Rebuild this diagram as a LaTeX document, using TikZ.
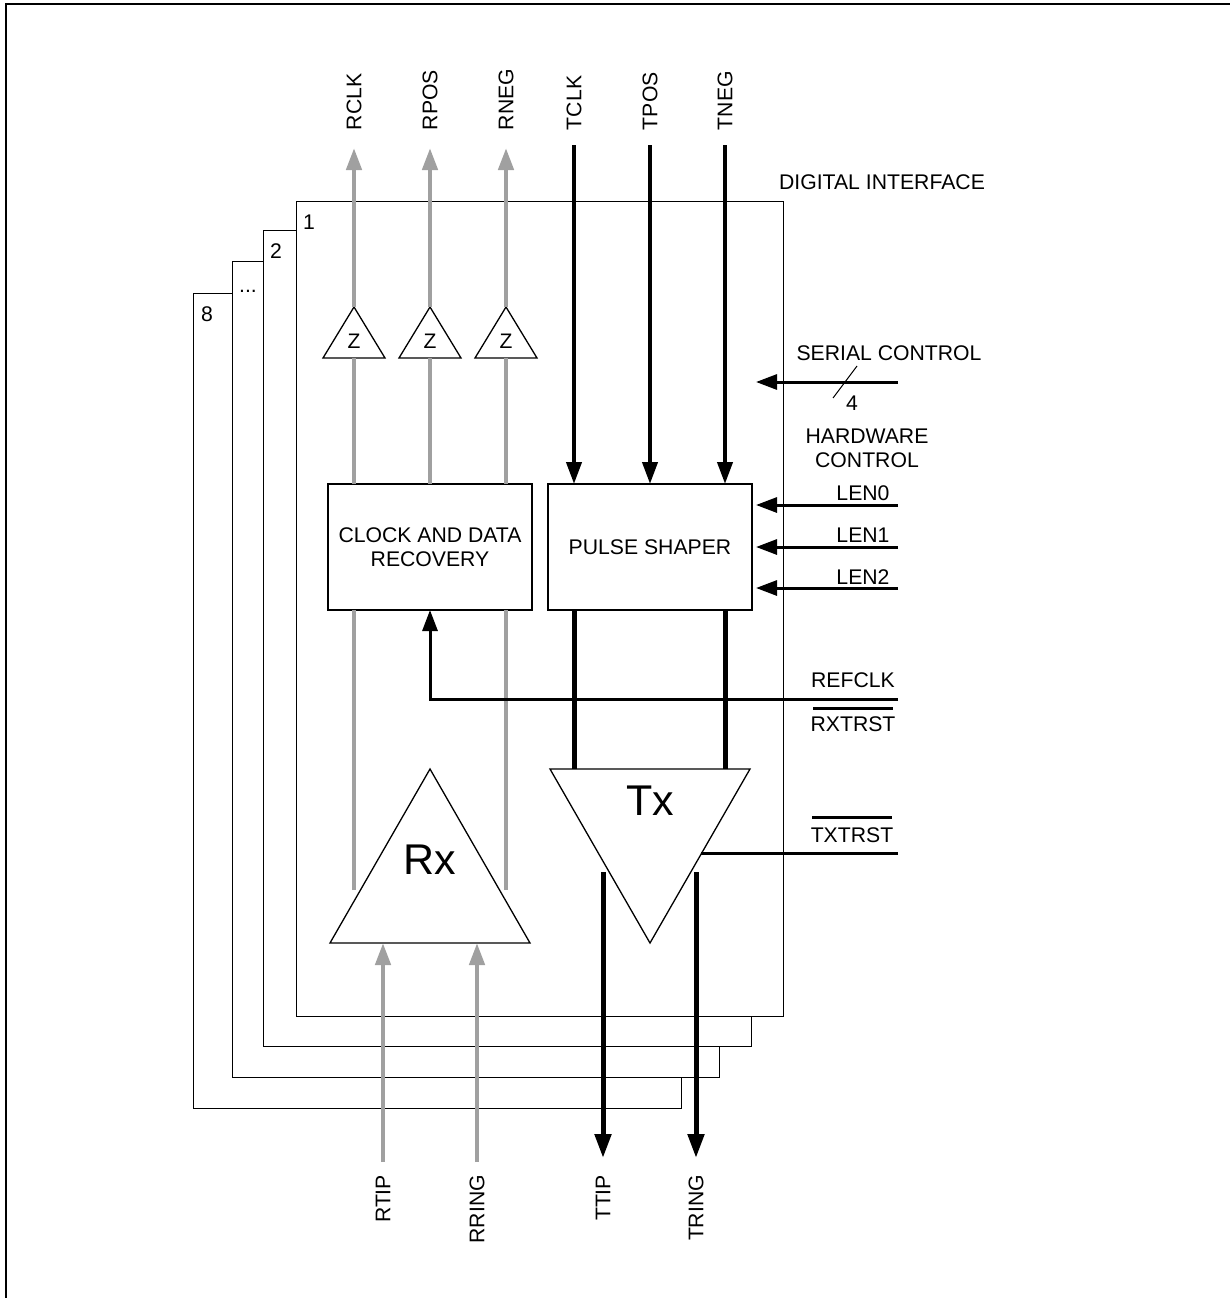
\documentclass[tikz,border=0pt]{standalone}
\usepackage{fontspec}
\setmainfont{Liberation Sans}
\usetikzlibrary{arrows.meta,calc}
\definecolor{sig}{RGB}{160,160,160}
\begin{document}
\begin{tikzpicture}[x=1pt,y=-1pt,
  lbl/.style={font=\fontsize{21.2}{23.5}\selectfont, inner sep=0pt, outer sep=0pt},
  biglbl/.style={font=\fontsize{43}{46}\selectfont, inner sep=0pt},
  zlbl/.style={font=\fontsize{21}{22}\selectfont, inner sep=0pt},
  card/.style={draw, line width=1pt, fill=white, anchor=north west, inner sep=0pt, outer sep=0pt,
               minimum width=488pt, minimum height=816pt},
  blockbox/.style={draw, line width=1.3pt, fill=white, anchor=north west, inner sep=0pt, outer sep=0pt,
               minimum width=204pt, minimum height=126pt, align=center,
               font=\fontsize{21.2}{23.5}\selectfont},
  garrow/.style={draw=sig, line width=4.5pt, -{Triangle[length=22pt,width=15pt]}},
  gline/.style={draw=sig, line width=4.5pt},
  barrow/.style={draw=black, line width=4pt, -{Triangle[length=22pt,width=15pt]}},
  carrow/.style={draw=black, line width=3pt, -{Triangle[length=21pt,width=15pt]}},
  bline/.style={draw=black, line width=5pt},
  cline/.style={draw=black, line width=3pt},
  amp/.style={draw=black, line width=1.3pt, fill=white, line join=miter},
]
\useasboundingbox (0,0) rectangle (1230,1298);

% outer frame
\coordinate (fbl) at (6,1298);
\coordinate (ftl) at (6,4);
\coordinate (ftr) at (1230,4);
\draw[line width=2pt] (fbl) -- (ftl) -- (ftr);

% stacked cards
\node[card, minimum width=488pt, minimum height=815pt] (c8) at (193,293) {};
\node[card, minimum width=487pt, minimum height=816pt] (c3) at (232,261) {};
\node[card, minimum width=488pt, minimum height=816pt] (c2) at (263,230) {};
\node[card, minimum width=487pt, minimum height=815pt] (c1) at (296,201) {};
\node[lbl] (n1) at (309,222) {1};
\node[lbl] (n2) at (276,251) {2};
\node[lbl, anchor=base] (n3) at (248,292) {...};
\node[lbl] (n8) at (207,314) {8};

\node[lbl] (di) at (882,182) {DIGITAL INTERFACE};

% blocks
\node[blockbox] (cdr) at (328,484) {CLOCK AND DATA\\RECOVERY};
\node[blockbox] (ps) at (548,484) {PULSE SHAPER};

% Z buffers
\foreach \i/\x in {1/354,2/430,3/506}{
  \coordinate (za\i) at (\x,307);
  \coordinate (zb\i) at (\x,358);
  \draw[amp] (\x,307) -- (\x+31,358) -- (\x-31,358) -- cycle;
  \node[zlbl] (zt\i) at (\x,341) {Z};
  \coordinate (rt\i) at (\x,148);
  \coordinate (cdrt\i) at (\x,484);
  \draw[gline] (cdrt\i) -- (zb\i);
  \draw[garrow] (za\i) -- (rt\i);
}
\node[lbl, rotate=90, anchor=west] (lrclk) at (354,130) {RCLK};
\node[lbl, rotate=90, anchor=west] (lrpos) at (430,130) {RPOS};
\node[lbl, rotate=90, anchor=west] (lrneg) at (506,130) {RNEG};

% transmit inputs
\foreach \i/\x in {1/574,2/650,3/725}{
  \coordinate (ts\i) at (\x,145);
  \coordinate (pst\i) at (\x,484);
  \draw[barrow] (ts\i) -- (pst\i);
}
\node[lbl, rotate=90, anchor=west] (ltclk) at (574,130) {TCLK};
\node[lbl, rotate=90, anchor=west] (ltpos) at (650,130) {TPOS};
\node[lbl, rotate=90, anchor=west] (ltneg) at (725,130) {TNEG};

% Rx amplifier
\coordinate (rxa) at (430,769);
\coordinate (rxl) at (330,943);
\coordinate (rxr) at (530,943);
\draw[amp] (rxa) -- (rxr) -- (rxl) -- cycle;
\node[biglbl] (rxt) at (430,860) {Rx};
\coordinate (rxo1) at (354,890);
\coordinate (rxo2) at (506,890);
\coordinate (cdrb1) at (354,610);
\coordinate (cdrb2) at (506,610);
\draw[gline] (rxo1) -- (cdrb1);
\draw[gline] (rxo2) -- (cdrb2);
\coordinate (rtipS) at (383,1162);
\coordinate (rringS) at (477,1162);
\coordinate (rxi1) at (383,943);
\coordinate (rxi2) at (477,943);
\draw[garrow] (rtipS) -- (rxi1);
\draw[garrow] (rringS) -- (rxi2);
\node[lbl, rotate=90, anchor=east] (lrtip) at (383,1175) {RTIP};
\node[lbl, rotate=90, anchor=east] (lrring) at (477,1175) {RRING};

% Tx amplifier
\coordinate (txl) at (550,769);
\coordinate (txr) at (750,769);
\coordinate (txb) at (650,943);
\draw[amp] (txl) -- (txr) -- (txb) -- cycle;
\node[biglbl] (txt) at (650,801) {Tx};
\coordinate (psb1) at (574,610);
\coordinate (psb2) at (725,610);
\coordinate (txi1) at (574,769);
\coordinate (txi2) at (725,769);
\draw[bline] (psb1) -- (txi1);
\draw[bline] (psb2) -- (txi2);
\coordinate (txo1) at (603,872);
\coordinate (txo2) at (696,872);
\coordinate (ttipE) at (603,1158);
\coordinate (tringE) at (696,1158);
\draw[line width=5pt, -{Triangle[length=24pt,width=16pt]}] (txo1) -- (ttipE);
\draw[line width=5pt, -{Triangle[length=24pt,width=16pt]}] (txo2) -- (tringE);
\node[lbl, rotate=90, anchor=east] (lttip) at (603,1175) {TTIP};
\node[lbl, rotate=90, anchor=east] (ltring) at (696,1175) {TRING};

% serial control
\coordinate (serS) at (898,382);
\coordinate (serE) at (756,382);
\draw[carrow] (serS) -- (serE);
\coordinate (sl1) at (833,398);
\coordinate (sl2) at (857,366);
\draw[line width=1pt] (sl1) -- (sl2);
\node[lbl] (ser) at (889,353) {SERIAL CONTROL};
\node[lbl] (four) at (852,403) {4};

% hardware control
\node[lbl, align=center] (hw) at (867,448.5) {HARDWARE\\CONTROL};
\foreach \i/\y in {0/505,1/547,2/588}{
  \coordinate (lenS\i) at (898,\y);
  \coordinate (lenE\i) at (756,\y);
  \draw[carrow] (lenS\i) -- (lenE\i);
}
\node[lbl] (len0) at (863,493) {LEN0};
\node[lbl] (len1) at (863,535) {LEN1};
\node[lbl] (len2) at (863,577) {LEN2};

% refclk
\coordinate (refS) at (898,699);
\coordinate (refC) at (430,699);
\coordinate (refE) at (430,610);
\draw[carrow] (refS) -- (refC) -- (refE);
\node[lbl] (refclk) at (853,680) {REFCLK};
\node[lbl] (rxtrst) at (853,724) {RXTRST};
\coordinate (rxb1) at (813,708);
\coordinate (rxb2) at (893,708);
\draw[line width=3pt] (rxb1) -- (rxb2);

% txtrst
\coordinate (txrS) at (898,853);
\coordinate (txrE) at (701,853);
\draw[cline] (txrS) -- (txrE);
\node[lbl] (txtrst) at (852,835) {TXTRST};
\coordinate (txb1) at (812,817);
\coordinate (txb2) at (892,817);
\draw[line width=3pt] (txb1) -- (txb2);
\end{tikzpicture}
\end{document}
